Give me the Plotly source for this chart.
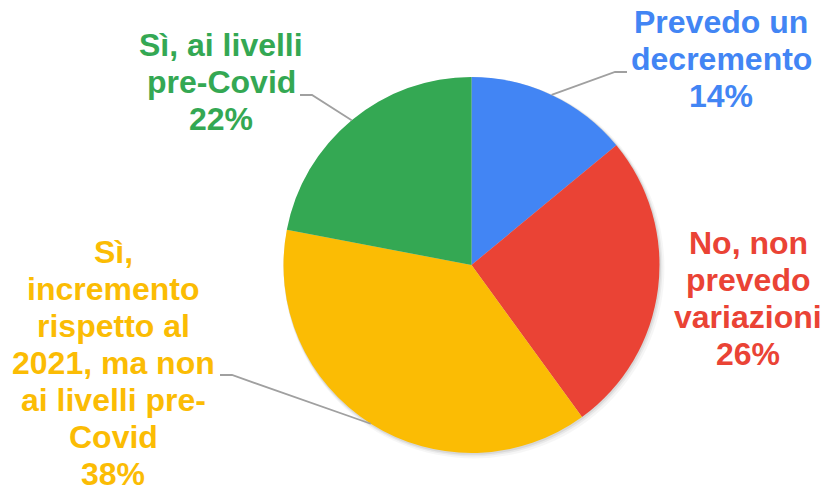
import math
import plotly.graph_objects as go

# ---- data ----
labels = ["Prevedo un decremento",
          "No, non prevedo variazioni",
          "Sì, incremento rispetto al 2021, ma non ai livelli pre-Covid",
          "Sì, ai livelli pre-Covid"]
values = [14, 26, 38, 22]
colors = ["#4285F4", "#EA4335", "#FBBC04", "#34A853"]
label_lines = [["Prevedo un", "decremento"],
               ["No, non", "prevedo", "variazioni"],
               ["Sì,", "incremento", "rispetto al", "2021, ma non", "ai livelli pre-", "Covid"],
               ["Sì, ai livelli", "pre-Covid"]]

# ---- layout (pixels) ----
W, H = 826, 492
CX, CY, R = 471.5, 265.0, 188.0
FONT_SIZE = 32
LINE_STEP = 37
label_pos = [(721, 35), (748, 256), (113, 265), (221, 58)]       # centre x, first baseline
leader = [((615, 72), (627, 72)), None, ((232, 375), (220, 375)), ((312, 95), (300, 95))]

def px(x):
    return x / W

def py(y):
    return 1 - y / H

def dom(cx, cy, r):
    return dict(x=[px(cx - r), px(cx + r)], y=[py(cy + r), py(cy - r)])

fig = go.Figure()

# soft shadow layers
for dx, dy, dr, a in [(2.5, 3, 2.5, 0.035), (1.5, 2, 1.5, 0.05), (0.8, 1, 0.8, 0.07)]:
    fig.add_trace(go.Pie(values=[1], marker=dict(colors=[f"rgba(0,0,0,{a})"]),
                         textinfo="none", hoverinfo="skip", showlegend=False,
                         domain=dom(CX + dx, CY + dy, R + dr), sort=False))

fig.add_trace(go.Pie(labels=labels, values=values, marker=dict(colors=colors, line=dict(width=0)),
                     textinfo="none", sort=False, direction="clockwise", rotation=0,
                     showlegend=False, domain=dom(CX, CY, R)))

annotations = []
shapes = []
total = sum(values)
cum = 0
for i, v in enumerate(values):
    lines = label_lines[i] + [f"{v}%"]
    cx, by = label_pos[i]
    for j, t in enumerate(lines):
        base = by + j * LINE_STEP
        annotations.append(dict(x=px(cx), y=py(base - 13), xref="paper", yref="paper",
                                text=f"<b>{t}</b>", showarrow=False, xanchor="center", yanchor="middle",
                                font=dict(family="Liberation Sans, Arial, sans-serif", size=FONT_SIZE,
                                          color=colors[i])))
    ang = math.radians((cum + v / 2) / total * 360)
    cum += v
    if leader[i] is not None:
        ex, ey = CX + R * math.sin(ang), CY - R * math.cos(ang)
        (kx, ky), (tx, ty) = leader[i]
        path = f"M {px(ex)},{py(ey)} L {px(kx)},{py(ky)} L {px(tx)},{py(ty)}"
        shapes.append(dict(type="path", xref="paper", yref="paper", path=path,
                           line=dict(color="#A0A0A0", width=1.8)))

fig.update_layout(width=W, height=H, margin=dict(l=0, r=0, t=0, b=0),
                  paper_bgcolor="white", plot_bgcolor="white",
                  annotations=annotations, shapes=shapes)

fig.write_html("out.html", config={"displayModeBar": False},
               post_script="document.body.style.margin='0';document.body.style.overflow='hidden';")
